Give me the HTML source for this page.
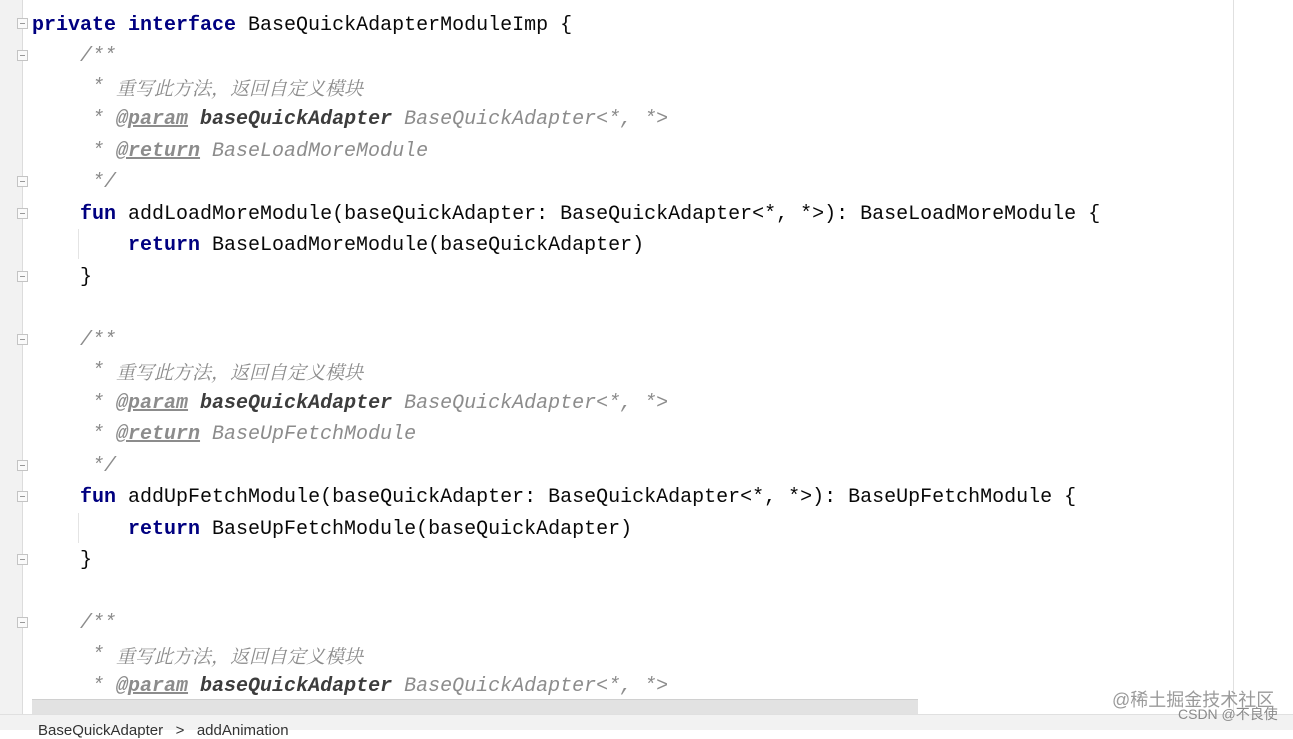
<!DOCTYPE html>
<html><head><meta charset="utf-8"><style>
html,body{margin:0;padding:0;width:1293px;height:729px;overflow:hidden;background:#fff;}
.g{position:absolute;left:0;top:0;width:22px;height:729px;background:#f2f2f2;}
.gl{position:absolute;left:22px;top:0;width:1px;height:729px;background:#dcdcdc;}
.rm{position:absolute;left:1233px;top:0;width:1px;height:729px;background:#e0e0e0;}
.l{position:absolute;left:32px;white-space:pre;font-family:"Liberation Mono","Noto Sans CJK SC",monospace;font-size:20px;line-height:24px;height:24px;color:#080808;}
.k{color:#000080;font-weight:bold;}
.c{color:#8c8c8c;font-style:italic;}
.cj{font-family:"Noto Serif CJK SC","Liberation Mono",serif;font-size:19px;line-height:24px;display:inline-block;vertical-align:top;}
.t{color:#8c8c8c;font-style:italic;text-decoration:underline;font-weight:bold;}
.b{color:#3d3d3d;font-weight:bold;font-style:italic;}
.f{position:absolute;left:17px;width:11px;height:11px;border:1px solid #c4c4c4;background:#fafafa;box-sizing:border-box;}
.f:after{content:"";position:absolute;left:2px;top:4px;width:5px;height:1px;background:#999;}
.ig{position:absolute;left:78px;width:1px;height:30px;background:#e4e4e4;}
.sb{position:absolute;left:32px;top:699px;width:886px;height:15px;background:#e2e2e2;border-top:1px solid #d0d0d0;}
.bb{position:absolute;left:0;top:714px;width:1293px;height:15px;background:#f2f2f2;border-top:1px solid #e0e0e0;}
.bt{position:absolute;left:38px;top:722px;font-family:"Liberation Sans",sans-serif;font-size:15px;color:#333;white-space:pre;}
.wm{position:absolute;font-family:"Liberation Sans","Noto Sans CJK SC",sans-serif;color:#9a9a9a;white-space:pre;}
</style></head><body>
<div class="g"></div><div class="gl"></div><div class="rm"></div>

<div class="f" style="top:18px"></div>
<div class="f" style="top:50px"></div>
<div class="f" style="top:176px"></div>
<div class="f" style="top:208px"></div>
<div class="f" style="top:271px"></div>
<div class="f" style="top:334px"></div>
<div class="f" style="top:460px"></div>
<div class="f" style="top:491px"></div>
<div class="f" style="top:554px"></div>
<div class="f" style="top:617px"></div>
<div class="ig" style="top:229px"></div>
<div class="ig" style="top:513px"></div>

<div class="l" style="top:14px"><span class="k">private interface</span> BaseQuickAdapterModuleImp {</div>
<div class="l" style="top:45px"><span class="c">    /**</span></div>
<div class="l" style="top:76px"><span class="c">     * <span class="cj">重写此方法，返回自定义模块</span></span></div>
<div class="l" style="top:108px"><span class="c">     * </span><span class="t">@param</span> <span class="b">baseQuickAdapter</span><span class="c"> BaseQuickAdapter&lt;*, *&gt;</span></div>
<div class="l" style="top:140px"><span class="c">     * </span><span class="t">@return</span><span class="c"> BaseLoadMoreModule</span></div>
<div class="l" style="top:171px"><span class="c">     */</span></div>
<div class="l" style="top:203px">    <span class="k">fun</span> addLoadMoreModule(baseQuickAdapter: BaseQuickAdapter&lt;*, *&gt;): BaseLoadMoreModule {</div>
<div class="l" style="top:234px">        <span class="k">return</span> BaseLoadMoreModule(baseQuickAdapter)</div>
<div class="l" style="top:266px">    }</div>

<div class="l" style="top:329px"><span class="c">    /**</span></div>
<div class="l" style="top:360px"><span class="c">     * <span class="cj">重写此方法，返回自定义模块</span></span></div>
<div class="l" style="top:392px"><span class="c">     * </span><span class="t">@param</span> <span class="b">baseQuickAdapter</span><span class="c"> BaseQuickAdapter&lt;*, *&gt;</span></div>
<div class="l" style="top:423px"><span class="c">     * </span><span class="t">@return</span><span class="c"> BaseUpFetchModule</span></div>
<div class="l" style="top:455px"><span class="c">     */</span></div>
<div class="l" style="top:486px">    <span class="k">fun</span> addUpFetchModule(baseQuickAdapter: BaseQuickAdapter&lt;*, *&gt;): BaseUpFetchModule {</div>
<div class="l" style="top:518px">        <span class="k">return</span> BaseUpFetchModule(baseQuickAdapter)</div>
<div class="l" style="top:549px">    }</div>

<div class="l" style="top:612px"><span class="c">    /**</span></div>
<div class="l" style="top:644px"><span class="c">     * <span class="cj">重写此方法，返回自定义模块</span></span></div>
<div class="l" style="top:675px"><span class="c">     * </span><span class="t">@param</span> <span class="b">baseQuickAdapter</span><span class="c"> BaseQuickAdapter&lt;*, *&gt;</span></div>
<div class="l" style="top:707px;opacity:.6"><span class="c">     * </span><span class="t">@return</span><span class="c"> BaseExpandableModule</span></div>

<div class="sb"></div>
<div class="bb"></div>
<div class="bt">BaseQuickAdapter   &gt;   addAnimation</div>
<div class="wm" style="left:1112px;top:686px;font-size:18px;">@稀土掘金技术社区</div>
<div class="wm" style="left:1178px;top:704px;font-size:14px;color:#8a8a8a;">CSDN @不良使</div>
</body></html>
